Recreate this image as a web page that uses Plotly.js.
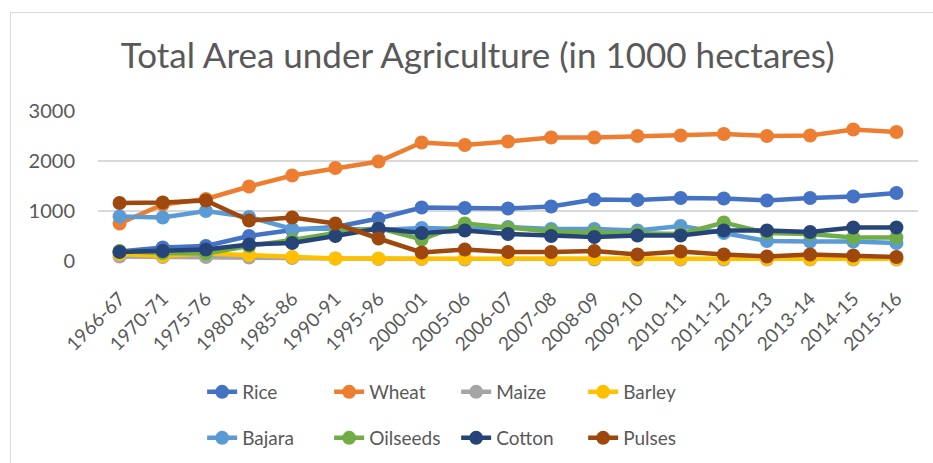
<!DOCTYPE html>
<html>
<head>
<meta charset="utf-8">
<script src="https://cdn.plot.ly/plotly-3.0.1.min.js"></script>
<style>
  html, body { margin: 0; padding: 0; background: #fff; overflow: hidden; }
  #frame { position: absolute; left: 10px; top: 12px; width: 960px; height: 480px; border: 1px solid #d9d9d9; }
  #chart { position: absolute; left: 0; top: 0; width: 933px; height: 463px; }
</style>
</head>
<body>
<div id="frame"></div>
<div id="chart"></div>
<script>
const categories = ["1966-67","1970-71","1975-76","1980-81","1985-86","1990-91","1995-96","2000-01","2005-06","2006-07","2007-08","2008-09","2009-10","2010-11","2011-12","2012-13","2013-14","2014-15","2015-16"];
const rice     = [190, 270, 300, 500, 620, 680, 850, 1070, 1060, 1050, 1090, 1230, 1220, 1260, 1250, 1210, 1260, 1290, 1360];
const wheat    = [750, 1130, 1240, 1490, 1710, 1860, 1990, 2370, 2320, 2390, 2470, 2470, 2500, 2510, 2540, 2500, 2510, 2630, 2580];
const maize    = [90, 80, 80, 70, 60, 50, 40, 40, 30, 30, 30, 30, 30, 30, 30, 30, 30, 30, 30];
const barley   = [140, 100, 150, 120, 80, 50, 50, 50, 50, 50, 50, 50, 50, 50, 50, 40, 40, 40, 40];
const bajara   = [890, 870, 1000, 880, 640, 650, 620, 660, 640, 680, 640, 640, 610, 700, 560, 400, 390, 390, 360];
const oilseeds = [200, 160, 150, 300, 420, 560, 660, 430, 750, 660, 590, 570, 560, 540, 770, 560, 540, 470, 470];
const cotton   = [180, 200, 230, 330, 360, 500, 650, 560, 610, 540, 500, 480, 510, 510, 610, 610, 580, 670, 670];
const pulses   = [1160, 1170, 1210, 810, 870, 750, 450, 170, 230, 180, 180, 200, 130, 190, 130, 90, 130, 110, 80];

const seriesNames = ["Rice","Wheat","Maize","Barley","Bajara","Oilseeds","Cotton","Pulses"];
const seriesData = [rice, wheat, maize, barley, bajara, oilseeds, cotton, pulses];
const colors = ["#4472C4","#ED7D31","#A5A5A5","#FFC000","#5B9BD5","#70AD47","#264478","#9E480E"];

const traces = seriesNames.map((n, i) => ({
  type: "scatter",
  mode: "lines+markers",
  name: n,
  x: categories,
  y: seriesData[i],
  line: { color: colors[i], width: 4.5 },
  marker: { color: colors[i], size: 14 },
  cliponaxis: false,
  legend: i < 4 ? "legend" : "legend2"
}));

const font = "Lato, 'Open Sans', sans-serif";
const legendCommon = {
  orientation: "h",
  xanchor: "left",
  yanchor: "middle",
  yref: "container",
  x: 0.127,
  font: { family: font, size: 19, color: "#595959" },
  entrywidth: 82,
  entrywidthmode: "pixels",
  bgcolor: "rgba(0,0,0,0)",
  itemclick: false
};

const layout = {
  width: 933,
  height: 463,
  paper_bgcolor: "rgba(0,0,0,0)",
  plot_bgcolor: "rgba(0,0,0,0)",
  margin: { l: 98, r: 15, t: 111, b: 202 },
  title: {
    text: "Total Area under Agriculture (in 1000 hectares)",
    font: { family: font, size: 35, color: "#595959" },
    x: 0.512, xanchor: "center",
    y: 0.88, yanchor: "middle", yref: "container"
  },
  xaxis: {
    type: "category",
    range: [-0.5, 18.5],
    tickangle: -45,
    tickfont: { family: font, size: 19, color: "#595959" },
    showgrid: false,
    zeroline: false,
    showline: false,
    ticks: "",
    automargin: false,
    ticklabelstandoff: 22,
    ticklabelshift: 0
  },
  yaxis: {
    range: [0, 3000],
    tickvals: [0, 1000, 2000, 3000],
    ticktext: ["0", "1000", "2000", "3000"],
    tickfont: { family: font, size: 20, color: "#595959" },
    gridcolor: "#d9d9d9",
    gridwidth: 1.3,
    zeroline: false,
    showline: false,
    ticks: "",
    automargin: false,
    ticklabelstandoff: 22
  },
  legend: Object.assign({}, legendCommon, { y: 0.1533 }),
  legend2: Object.assign({}, legendCommon, { y: 0.054 }),
  showlegend: true
};

Plotly.newPlot("chart", traces, layout, { displayModeBar: false, staticPlot: true });
</script>
</body>
</html>
